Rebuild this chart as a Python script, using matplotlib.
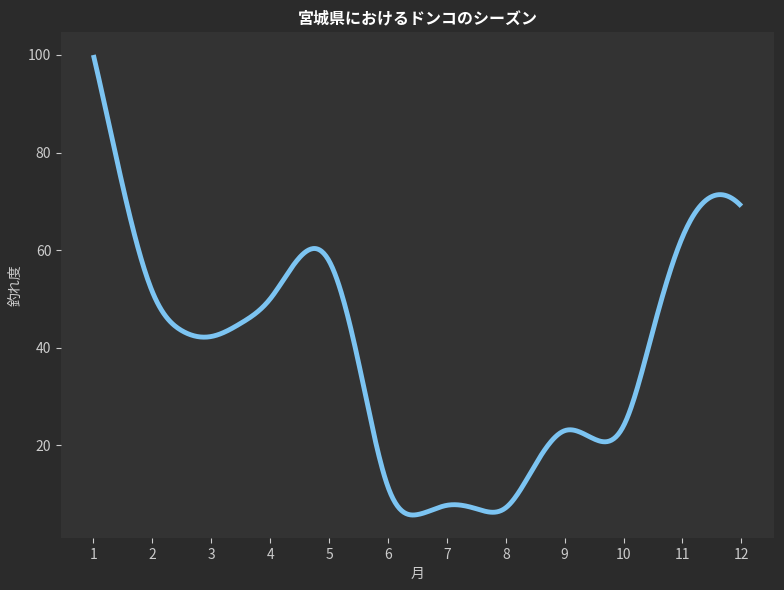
import numpy as np
import matplotlib
matplotlib.use("Agg")
import matplotlib.pyplot as plt
from scipy.interpolate import make_interp_spline

plt.rcParams['font.family'] = ['Noto Sans CJK JP', 'DejaVu Sans']

# values read at half-month steps
month_pos = [1.0, 1.5, 2.0, 2.5, 3.0, 3.5, 4.0, 4.5, 5.0, 5.5, 6.0, 6.5,
             7.0, 7.5, 8.0, 8.5, 9.0, 9.5, 10.0, 10.5, 11.0, 11.5, 12.0]
score = [100, 73, 51.5, 43.5, 42.3, 45, 50, 58.5, 57.8, 37.0, 11.5, 5.8,
         7.7, 7.0, 7.2, 16, 23, 21.3, 24, 43.6, 62.7, 71, 69]
month_ticks = [1, 2, 3, 4, 5, 6, 7, 8, 9, 10, 11, 12]
y_ticks = [20, 40, 60, 80, 100]

title = "宮城県におけるドンコのシーズン"
xlabel = "月"
ylabel = "釣れ度"

fig = plt.figure(figsize=(7.84, 5.9), dpi=100, facecolor="#2b2b2b")
ax = fig.add_axes([0.0778, 0.0881, 0.9092, 0.8577])
ax.set_facecolor("#333333")

xs = np.linspace(min(month_pos), max(month_pos), 600)
ys = make_interp_spline(month_pos, score, k=3)(xs)
ax.plot(xs, ys, color="#7cc4f2", linewidth=3.5, solid_capstyle="butt")

ax.set_xticks(month_ticks)
ax.set_yticks(y_ticks)
for s in ax.spines.values():
    s.set_visible(False)
ax.tick_params(colors="#cccccc", labelsize=10)
ax.set_title(title, color="white", fontsize=11.5, fontweight="bold", pad=6)
ax.set_xlabel(xlabel, color="#cccccc", fontsize=10)
ax.set_ylabel(ylabel, color="#cccccc", fontsize=10)

fig.savefig("out.png", dpi=100, facecolor=fig.get_facecolor())
